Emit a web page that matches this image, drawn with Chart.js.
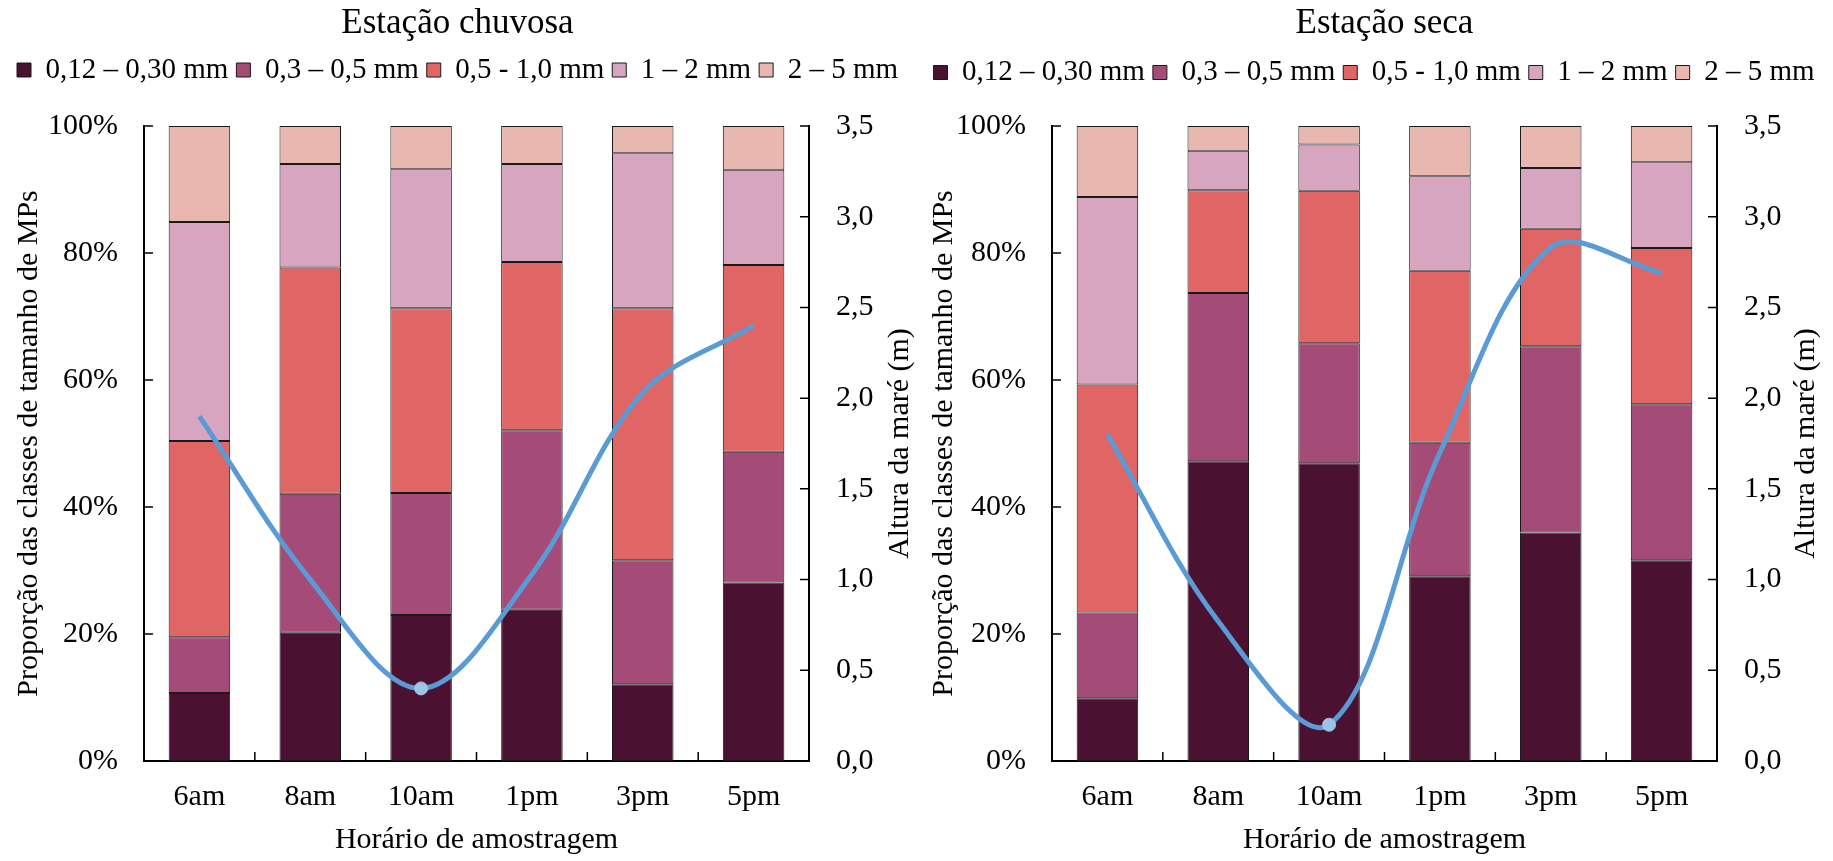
<!DOCTYPE html>
<html lang="pt">
<head>
<meta charset="utf-8">
<title>Classes de tamanho de MPs e altura da maré</title>
<script src="https://cdn.jsdelivr.net/npm/chart.js@4.4.1/dist/chart.umd.min.js"></script>
<style>
  html, body { margin: 0; padding: 0; background: #fff; }
  body { width: 1833px; height: 861px; position: relative; overflow: hidden; }
  canvas { position: absolute; top: 0; }
  #chuvosa { left: 0; }
  #seca { left: 915px; }
</style>
</head>
<body>
<canvas id="chuvosa" width="915" height="861"></canvas>
<canvas id="seca" width="918" height="861"></canvas>
<script>
// horários de amostragem e classes de tamanho
const hours = ['6am', '8am', '10am', '1pm', '3pm', '5pm'];
const sizeClasses = ['0,12 – 0,30 mm', '0,3 – 0,5 mm', '0,5 - 1,0 mm', '1 – 2 mm', '2 – 5 mm'];
const classColors = ['#4B1130', '#A54B77', '#E06666', '#D8A5C0', '#E8B8B0'];

// Estação chuvosa (%)
const chuvosa012 = [10.7, 20.2, 23.0, 23.8, 12.1, 28.1];
const chuvosa03  = [ 8.8, 21.9, 19.2, 28.3, 19.5, 20.6];
const chuvosa05  = [30.9, 35.6, 29.1, 26.5, 39.7, 29.4];
const chuvosa1   = [34.5, 16.3, 21.9, 15.4, 24.4, 15.0];
const chuvosa2   = [15.1,  6.0,  6.8,  6.0,  4.3,  6.9];
const mareChuvosa = [1.90, 1.00, 0.40, 1.03, 2.03, 2.40];

// Estação seca (%)
const seca012 = [ 9.9, 47.2, 46.9, 29.1, 36.0, 31.6];
const seca03  = [13.5, 26.5, 18.9, 21.0, 29.3, 24.6];
const seca05  = [35.9, 16.2, 24.0, 27.1, 18.5, 24.6];
const seca1   = [29.5,  6.2,  7.3, 14.9,  9.6, 13.5];
const seca2   = [11.2,  3.9,  2.9,  7.9,  6.6,  5.7];
const mareSeca = [1.80, 0.77, 0.20, 1.70, 2.83, 2.69];

// só o ponto das 10am tem marcador
const markerRadius = [0, 0, 6.5, 0, 0, 0];

Chart.defaults.font.family = "'Liberation Serif', 'Times New Roman', serif";
Chart.defaults.color = '#000';

// ticks para dentro + título do eixo da direita (lido de baixo para cima)
const innerTicks = {
  id: 'innerTicks',
  afterDraw(chart, args, opts) {
    const { ctx, chartArea: a, scales } = chart;
    ctx.save();
    ctx.strokeStyle = '#000';
    ctx.lineWidth = 1.5;
    ctx.beginPath();
    scales.y.ticks.forEach(t => {
      const py = scales.y.getPixelForValue(t.value);
      ctx.moveTo(a.left, py); ctx.lineTo(a.left + 9, py);
    });
    scales.y1.ticks.forEach(t => {
      const py = scales.y1.getPixelForValue(t.value);
      ctx.moveTo(a.right, py); ctx.lineTo(a.right - 9, py);
    });
    const xs = scales.x;
    for (let i = 1; i < xs.ticks.length; i++) {
      const px = (xs.getPixelForTick(i - 1) + xs.getPixelForTick(i)) / 2;
      ctx.moveTo(px, a.bottom); ctx.lineTo(px, a.bottom - 9);
    }
    ctx.stroke();
    ctx.translate(a.right + opts.titleOffset, (a.top + a.bottom) / 2);
    ctx.rotate(-Math.PI / 2);
    ctx.fillStyle = '#000';
    ctx.font = "30px 'Liberation Serif', 'Times New Roman', serif";
    ctx.textAlign = 'center';
    ctx.textBaseline = 'middle';
    ctx.fillText(opts.text, 0, 0);
    ctx.restore();
  }
};

function makeChart(id, title, classes, tide, g) {
  const datasets = classes.map((vals, i) => ({
    label: sizeClasses[i],
    data: vals,
    backgroundColor: classColors[i],
    borderColor: '#1a1a1a',
    borderWidth: 1,
    borderSkipped: false,
    barPercentage: 0.555,
    categoryPercentage: 1.0,
    order: 1
  }));
  datasets.push({
    type: 'line',
    label: 'Altura da maré (m)',
    data: tide,
    yAxisID: 'y1',
    borderColor: '#5B9BD5',
    borderWidth: 5,
    tension: 0.35,
    fill: false,
    pointRadius: markerRadius,
    pointBackgroundColor: '#9DC3E6',
    pointBorderColor: '#9DC3E6',
    pointBorderWidth: 1,
    order: 0
  });
  const axisBorder = { display: true, color: '#000', width: 2 };
  return new Chart(document.getElementById(id), {
    type: 'bar',
    data: { labels: hours, datasets },
    plugins: [innerTicks],
    options: {
      responsive: false,
      animation: false,
      layout: { padding: 0 },
      plugins: {
        title: { display: true, text: title, color: '#000', fullSize: g.titleFull, font: { size: 35, weight: 'normal' }, padding: { top: 3, bottom: g.titleBottom } },
        legend: {
          display: true,
          labels: { color: '#000', font: { size: 29 }, boxWidth: 14, boxHeight: 14, padding: 8, filter: it => it.datasetIndex < 5 }
        },
        subtitle: { display: true, text: '', weight: 500, font: { size: 10, lineHeight: 1 }, padding: { top: g.spacer, bottom: 0 } },
        tooltip: { enabled: false },
        innerTicks: { text: 'Altura da maré (m)', titleOffset: g.y1TitleOffset }
      },
      scales: {
        x: {
          stacked: true,
          grid: { display: false, drawTicks: false },
          border: axisBorder,
          ticks: { color: '#000', font: { size: 30 }, padding: 18, maxRotation: 0, autoSkip: false },
          title: { display: true, text: 'Horário de amostragem', color: '#000', font: { size: 30 }, padding: { top: 0, bottom: 3 } },
          afterFit: s => { s.height = 100; }
        },
        y: {
          stacked: true,
          min: 0,
          max: 100,
          grid: { display: false, drawTicks: false },
          border: axisBorder,
          ticks: { stepSize: 20, color: '#000', font: { size: 30 }, padding: 26, callback: v => v + '%' },
          title: { display: true, text: 'Proporção das classes de tamanho de MPs', color: '#000', font: { size: 30 }, padding: { top: 11, bottom: 0 } },
          afterFit: s => { s.width = g.yWidth; }
        },
        y1: {
          position: 'right',
          min: 0,
          max: 3.5,
          grid: { display: false, drawTicks: false },
          border: axisBorder,
          ticks: { stepSize: 0.5, color: '#000', font: { size: 30 }, padding: 27, callback: v => v.toFixed(1).replace('.', ',') },
          afterFit: s => { s.width = g.y1Width; }
        }
      }
    }
  });
}

makeChart('chuvosa', 'Estação chuvosa',
  [chuvosa012, chuvosa03, chuvosa05, chuvosa1, chuvosa2], mareChuvosa,
  { titleFull: true, titleBottom: 2.5, spacer: 21.5, yWidth: 144, y1Width: 106, y1TitleOffset: 91 });

makeChart('seca', 'Estação seca',
  [seca012, seca03, seca05, seca1, seca2], mareSeca,
  { titleFull: false, titleBottom: 5, spacer: 19, yWidth: 137, y1Width: 116, y1TitleOffset: 89 });
</script>
</body>
</html>
